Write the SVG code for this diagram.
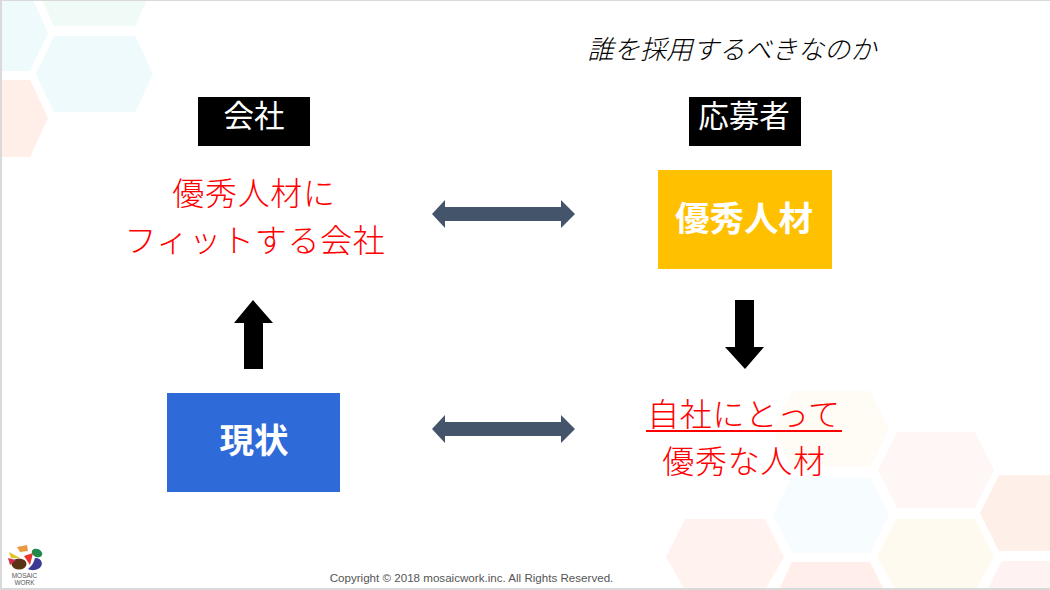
<svg xmlns="http://www.w3.org/2000/svg" width="1050" height="590" viewBox="0 0 1050 590">
<style>
.jp{font-family:"Noto Sans CJK JP","Liberation Sans",sans-serif}
.red{fill:#ff0000;font-size:32px;font-weight:300;text-anchor:middle;letter-spacing:.7px}
.hd{fill:#fff;font-size:30.5px;text-anchor:middle;font-weight:400}
.bx{fill:#fff;font-size:34.5px;font-weight:700;text-anchor:middle}
.lg{font-family:"Liberation Sans",sans-serif;font-size:6.5px;text-anchor:middle;fill:#555}
</style>
<defs>
<polygon id="h" points="0,38 19,0 97,0 116,38 97,76 19,76"/>
<path id="dbl" d="M0,14 L13,0 V7 H129 V0 L143,14 L129,28 V21 H13 V28 Z" fill="#44546a"/>
</defs>
<rect width="1050" height="590" fill="#fff"/>
<g id="background">
<polygon points="42,0 147,0 135,26 54,26" fill="#f0fbf8"/>
<polygon points="0,0 33,0 48,33 30,71 0,71" fill="#effafc"/>
<polygon points="36,74 54,36 135,36 153,74 135,112 54,112" fill="#eefafc"/>
<polygon points="0,80 30,80 48,118 30,157 0,157" fill="#ffefe8"/>
<use href="#h" x="773" y="391" fill="#fffbf5"/>
<use href="#h" x="878" y="432" fill="#fff6f6"/>
<use href="#h" x="773" y="477" fill="#f7fcfe"/>
<polygon points="980,513 999,475 1050,475 1050,551 999,551" fill="#ffefe9"/>
<polygon points="877,557 896,519 975,519 994,557 975,590 896,590" fill="#fffaef"/>
<polygon points="666,557 685,519 765,519 784,557 765,590 685,590" fill="#fff2ef"/>
<polygon points="779,590 792,562 870,562 884,590" fill="#ffeee9"/>
<polygon points="987,590 1002,561 1050,561 1050,590" fill="#fff2f3"/>
</g>
<g id="frame" fill="#d9d9d9">
<rect x="0" y="0" width="1050" height="1"/>
<rect x="0" y="0" width="2" height="590"/>
<rect x="0" y="588" width="1050" height="2"/>
</g>
<text id="title" class="jp" x="732" y="59" font-size="26.3" font-style="italic" font-weight="300" text-anchor="middle" fill="#000">誰を採用するべきなのか</text>
<g id="node-company-head"><rect x="198" y="97" width="112" height="49" fill="#000"/><text class="jp hd" x="254" y="127">会社</text></g>
<g id="node-applicant-head"><rect x="689" y="97" width="112" height="49" fill="#000"/><text class="jp hd" x="744" y="127">応募者</text></g>
<g id="node-fit"><text class="jp red" x="254" y="205">優秀人材に</text><text class="jp red" x="255" y="252">フィットする会社</text></g>
<g id="node-talent"><rect x="658" y="170" width="174" height="99" fill="#ffc000"/><text class="jp bx" x="744" y="231">優秀人材</text></g>
<g id="node-current"><rect x="167" y="393" width="173" height="99" fill="#2f6bd8"/><text class="jp bx" x="254" y="453">現状</text></g>
<g id="node-own"><text class="jp red" x="744" y="426">自社にとって</text><rect x="646" y="430" width="196" height="2" fill="#ff0000"/><text class="jp red" x="744" y="473">優秀な人材</text></g>
<g id="connectors">
<use href="#dbl" x="432" y="200"/>
<use href="#dbl" x="432" y="415"/>
<polygon points="253,300 273,323 263,323 263,369 244,369 244,323 234,323" fill="#000"/>
<polygon points="735,300 754,300 754,347 764,347 745,369 725,347 735,347" fill="#000"/>
</g>
<g id="logo">
<ellipse cx="19" cy="564" rx="7.5" ry="5.5" fill="#5a3214"/>
<ellipse cx="37" cy="553" rx="5.5" ry="4" fill="#1f8a4c" transform="rotate(25 37 553)"/>
<path d="M35,558 C43,558 44,566 38,569 C33,571 30,570 28,569 C32,566 34,562 35,558 Z" fill="#3a3a94"/>
<path d="M24,556 L33,553 L30,565 Z" fill="#e8342c"/>
<path d="M9,552 L20,558 L11,558 Z" fill="#e8c020"/>
<path d="M8,558 L16,560 L10,565 Z" fill="#d02c50"/>
<path d="M17,547 L27,545 L28,551 L20,552 Z" fill="#e89a40"/>
<text class="lg" x="24.500" y="578">MOSAIC</text>
<text class="lg" x="24.500" y="585">WORK</text>
</g>
<text id="copyright" x="471.500" y="582" font-family="Liberation Sans,sans-serif" font-size="11.6" text-anchor="middle" fill="#555">Copyright © 2018 mosaicwork.inc. All Rights Reserved.</text>
</svg>
